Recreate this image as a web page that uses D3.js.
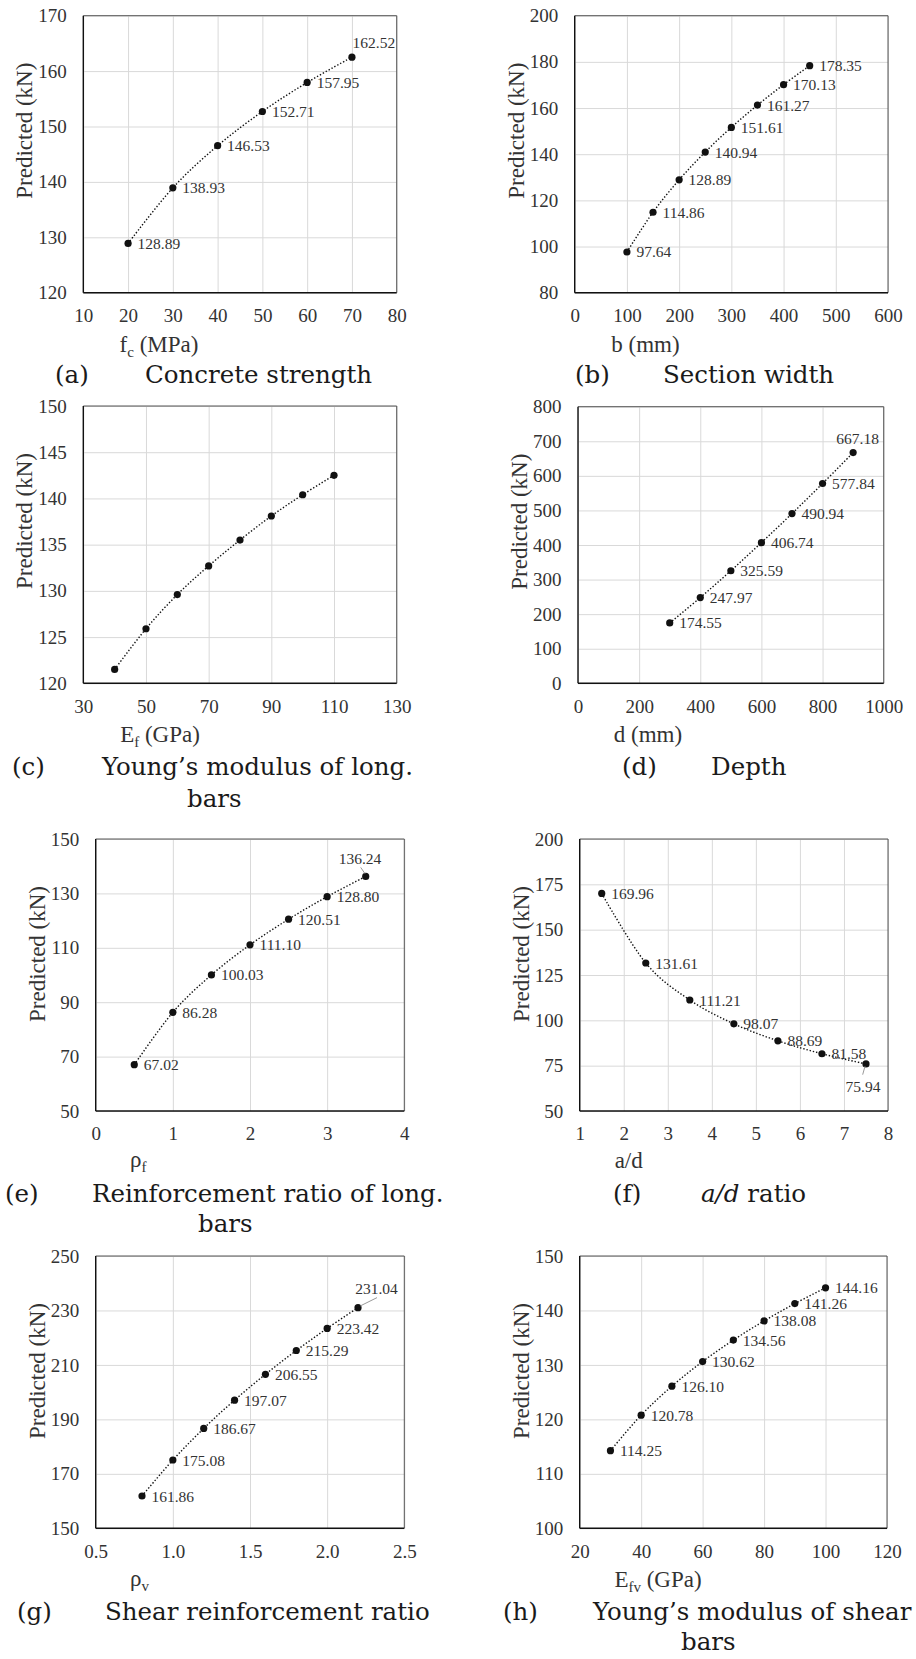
<!DOCTYPE html>
<html>
<head>
<meta charset="utf-8">
<script src="https://cdn.jsdelivr.net/npm/d3@7"></script>
<style>
  body { margin: 0; background: #fff; }
  svg { display: block; font-family: "Liberation Serif", "Times New Roman", serif; }
  svg .tick text { font-family: "Liberation Serif", "Times New Roman", serif; }
  svg .cap { font-family: "DejaVu Serif", serif; }
</style>
</head>
<body>
<div id="chart"></div>
<script>
// (a) concrete strength
const fcValues = [20, 30, 40, 50, 60, 70];
const fcPredicted = [128.89, 138.93, 146.53, 152.71, 157.95, 162.52];
const fcTicks = [10, 20, 30, 40, 50, 60, 70, 80];
const fcYTicks = [120, 130, 140, 150, 160, 170];

// (b) section width
const widthValues = [100, 150, 200, 250, 300, 350, 400, 450];
const widthPredicted = [97.64, 114.86, 128.89, 140.94, 151.61, 161.27, 170.13, 178.35];
const widthTicks = [0, 100, 200, 300, 400, 500, 600];
const widthYTicks = [80, 100, 120, 140, 160, 180, 200];

// (c) Young's modulus of long. bars (no labels in the source)
const efValues = [40, 50, 60, 70, 80, 90, 100, 110];
const efPredicted = [121.5, 125.9, 129.6, 132.7, 135.5, 138.1, 140.4, 142.5];
const efTicks = [30, 50, 70, 90, 110, 130];
const efYTicks = [120, 125, 130, 135, 140, 145, 150];

// (d) depth
const depthValues = [300, 400, 500, 600, 700, 800, 900];
const depthPredicted = [174.55, 247.97, 325.59, 406.74, 490.94, 577.84, 667.18];
const depthTicks = [0, 200, 400, 600, 800, 1000];
const depthYTicks = [0, 100, 200, 300, 400, 500, 600, 700, 800];

// (e) reinforcement ratio of long. bars
const rhoFValues = [0.5, 1, 1.5, 2, 2.5, 3, 3.5];
const rhoFPredicted = [67.02, 86.28, 100.03, 111.10, 120.51, 128.80, 136.24];
const rhoFTicks = [0, 1, 2, 3, 4];
const rhoFYTicks = [50, 70, 90, 110, 130, 150];

// (f) a/d ratio
const adValues = [1.5, 2.5, 3.5, 4.5, 5.5, 6.5, 7.5];
const adPredicted = [169.96, 131.61, 111.21, 98.07, 88.69, 81.58, 75.94];
const adTicks = [1, 2, 3, 4, 5, 6, 7, 8];
const adYTicks = [50, 75, 100, 125, 150, 175, 200];

// (g) shear reinforcement ratio
const rhoVValues = [0.8, 1.0, 1.2, 1.4, 1.6, 1.8, 2.0, 2.2];
const rhoVPredicted = [161.86, 175.08, 186.67, 197.07, 206.55, 215.29, 223.42, 231.04];
const rhoVTicks = [0.5, 1.0, 1.5, 2.0, 2.5];
const rhoVYTicks = [150, 170, 190, 210, 230, 250];

// (h) Young's modulus of shear bars
const efvValues = [30, 40, 50, 60, 70, 80, 90, 100];
const efvPredicted = [114.25, 120.78, 126.10, 130.62, 134.56, 138.08, 141.26, 144.16];
const efvTicks = [20, 40, 60, 80, 100, 120];
const efvYTicks = [100, 110, 120, 130, 140, 150];

const width = 916;
const height = 1659;

const serif = "\"Liberation Serif\", \"Times New Roman\", serif";
const captionFont = "\"DejaVu Serif\", serif";

const panels = [
  {
    x: fcValues, y: fcPredicted, xTicks: fcTicks, yTicks: fcYTicks,
    box: { l: 83.3, r: 396.7, t: 15.7, b: 292.7 },
    xTitle: [["f"], ["c", 1], [" (MPa)"]], xTitleAt: [159, 351.7], xTitleAnchor: "middle",
    tag: ["(a)", 55, 383.3],
    caption: [{ x: 145, y: 383.3, parts: [["Concrete strength"]] }],
    labels: true,
    last: { dx: 22, dy: -9, anchor: "middle" },
  },
  {
    x: widthValues, y: widthPredicted, xTicks: widthTicks, yTicks: widthYTicks,
    box: { l: 574.7, r: 888, t: 15.7, b: 292.7 },
    xTitle: [["b (mm)"]], xTitleAt: [645.5, 351.7], xTitleAnchor: "middle",
    tag: ["(b)", 575, 383.3],
    caption: [{ x: 663, y: 383.3, parts: [["Section width"]] }],
    labels: true,
  },
  {
    x: efValues, y: efPredicted, xTicks: efTicks, yTicks: efYTicks,
    box: { l: 83.3, r: 396.7, t: 406, b: 683.3 },
    xTitle: [["E"], ["f", 1], [" (GPa)"]], xTitleAt: [160, 741.7], xTitleAnchor: "middle",
    tag: ["(c)", 12, 775],
    caption: [
      { x: 102, y: 775, parts: [["Young\u2019s modulus of long."]] },
      { x: 187, y: 806.7, parts: [["bars"]] },
    ],
    labels: false,
  },
  {
    x: depthValues, y: depthPredicted, xTicks: depthTicks, yTicks: depthYTicks,
    box: { l: 578, r: 883.7, t: 406.7, b: 683.3 },
    xTitle: [["d (mm)"]], xTitleAt: [648, 741.7], xTitleAnchor: "middle",
    tag: ["(d)", 622, 775],
    caption: [{ x: 711, y: 775, parts: [["Depth"]] }],
    labels: true,
    last: { dx: 4.5, dy: -9, anchor: "middle" },
  },
  {
    x: rhoFValues, y: rhoFPredicted, xTicks: rhoFTicks, yTicks: rhoFYTicks,
    box: { l: 95.7, r: 404.3, t: 839, b: 1111 },
    xTitle: [["\u03c1"], ["f", 1]], xTitleAt: [130, 1166.5], xTitleAnchor: "start",
    tag: ["(e)", 5, 1201.7],
    caption: [
      { x: 92, y: 1201.7, parts: [["Reinforcement ratio of long."]] },
      { x: 198, y: 1231.7, parts: [["bars"]] },
    ],
    labels: true,
    last: { dx: -5.7, dy: -12, anchor: "middle", leader: [-5, -9, -0.7, -2.7] },
  },
  {
    x: adValues, y: adPredicted, xTicks: adTicks, yTicks: adYTicks,
    box: { l: 579.7, r: 888, t: 839, b: 1111 },
    xTitle: [["a/d"]], xTitleAt: [628.7, 1168.3], xTitleAnchor: "middle",
    tag: ["(f)", 613, 1201.7],
    caption: [{ x: 701, y: 1201.7, parts: [["a/d", 0, 1], [" ratio"]] }],
    labels: true,
    last: { dx: -3, dy: 28, anchor: "middle", leader: [-3.3, 10.7, -1, 2.4] },
  },
  {
    x: rhoVValues, y: rhoVPredicted, xTicks: rhoVTicks, yTicks: rhoVYTicks, xFormat: ".1f",
    box: { l: 95.7, r: 404.3, t: 1256, b: 1528.3 },
    xTitle: [["\u03c1"], ["v", 1]], xTitleAt: [130, 1585.5], xTitleAnchor: "start",
    tag: ["(g)", 17, 1620],
    caption: [{ x: 105, y: 1620, parts: [["Shear reinforcement ratio"]] }],
    labels: true,
    last: { dx: 18.5, dy: -14, anchor: "middle", leader: [2.3, -1.7, 19, -10] },
  },
  {
    x: efvValues, y: efvPredicted, xTicks: efvTicks, yTicks: efvYTicks,
    box: { l: 579.7, r: 887, t: 1256, b: 1528.3 },
    xTitle: [["E"], ["fv", 1], [" (GPa)"]], xTitleAt: [658, 1586.7], xTitleAnchor: "middle",
    tag: ["(h)", 503, 1620],
    caption: [
      { x: 593, y: 1620, parts: [["Young\u2019s modulus of shear"]] },
      { x: 681, y: 1650, parts: [["bars"]] },
    ],
    labels: true,
  },
];

const svg = d3
  .select("#chart")
  .append("svg")
  .attr("width", width)
  .attr("height", height)
  .attr("viewBox", `0 0 ${width} ${height}`);

svg.append("rect").attr("width", width).attr("height", height).attr("fill", "#fff");

const labelFormat = d3.format(".2f");

// writes text made of parts: [text, subscript?, italic?]
function writeParts(textSel, parts, subSize) {
  let shifted = false;
  parts.forEach(([str, sub, italic]) => {
    const t = textSel.append("tspan").text(str);
    if (sub && !shifted) {
      t.attr("dy", 5).style("font-size", `${subSize}px`);
      shifted = true;
    } else if (!sub && shifted) {
      t.attr("dy", -5);
      shifted = false;
    } else if (sub) {
      t.style("font-size", `${subSize}px`);
    }
    if (italic) t.style("font-style", "italic");
  });
}

panels.forEach((p) => {
  const { l, r, t, b } = p.box;
  const innerWidth = r - l;
  const innerHeight = b - t;

  const x = d3
    .scaleLinear()
    .domain(d3.extent(p.xTicks))
    .range([0, innerWidth]);

  const y = d3
    .scaleLinear()
    .domain(d3.extent(p.yTicks))
    .range([innerHeight, 0]);

  const chart = svg.append("g").attr("transform", `translate(${l}, ${t})`);

  // y gridlines + tick labels
  chart
    .append("g")
    .call(
      d3.axisLeft(y)
        .tickValues(p.yTicks)
        .tickSizeInner(-innerWidth)
        .tickSizeOuter(0)
        .tickPadding(16.5)
        .tickFormat(d3.format("d")),
    )
    .attr("font-family", null)
    .call((g) => g.select(".domain").remove())
    .call((g) => g.selectAll(".tick line").attr("stroke", "#d9d9d9").attr("stroke-width", 1))
    .call((g) => g.selectAll(".tick text")
      .attr("fill", "#333")
      .style("font-family", serif)
      .style("font-size", "19px"));

  // x gridlines + tick labels
  chart
    .append("g")
    .attr("transform", `translate(0, ${innerHeight})`)
    .call(
      d3.axisBottom(x)
        .tickValues(p.xTicks)
        .tickSizeInner(-innerHeight)
        .tickSizeOuter(0)
        .tickPadding(16)
        .tickFormat(d3.format(p.xFormat || "d")),
    )
    .attr("font-family", null)
    .call((g) => g.select(".domain").remove())
    .call((g) => g.selectAll(".tick line").attr("stroke", "#d9d9d9").attr("stroke-width", 1))
    .call((g) => g.selectAll(".tick text")
      .attr("fill", "#333")
      .style("font-family", serif)
      .style("font-size", "19px"));

  // frame
  chart.append("line")
    .attr("x1", 0).attr("x2", innerWidth).attr("y1", 0).attr("y2", 0)
    .attr("stroke", "#555").attr("stroke-width", 1);
  chart.append("line")
    .attr("x1", innerWidth).attr("x2", innerWidth).attr("y1", 0).attr("y2", innerHeight)
    .attr("stroke", "#555").attr("stroke-width", 1);
  chart.append("line")
    .attr("x1", 0).attr("x2", 0).attr("y1", 0).attr("y2", innerHeight)
    .attr("stroke", "#111").attr("stroke-width", 1.4);
  chart.append("line")
    .attr("x1", 0).attr("x2", innerWidth).attr("y1", innerHeight).attr("y2", innerHeight)
    .attr("stroke", "#111").attr("stroke-width", 1.4);

  const points = p.x.map((v, i) => ({ x: v, y: p.y[i] }));

  const line = d3
    .line()
    .x((d) => x(d.x))
    .y((d) => y(d.y))
    .curve(d3.curveCardinal.tension(0));

  chart
    .append("path")
    .datum(points)
    .attr("d", line)
    .attr("fill", "none")
    .attr("stroke", "#111")
    .attr("stroke-width", 1.4)
    .attr("stroke-dasharray", "1.4,1.9");

  chart
    .selectAll("circle.pt")
    .data(points)
    .enter()
    .append("circle")
    .attr("class", "pt")
    .attr("cx", (d) => x(d.x))
    .attr("cy", (d) => y(d.y))
    .attr("r", 3.6)
    .attr("fill", "#111");

  if (p.labels) {
    points.forEach((d, i) => {
      const px = x(d.x);
      const py = y(d.y);
      const special = i === points.length - 1 ? p.last : null;
      const label = chart.append("text")
        .style("font-family", serif)
        .style("font-size", "15.5px")
        .attr("fill", "#333")
        .text(labelFormat(d.y));
      if (special) {
        label
          .attr("x", px + special.dx)
          .attr("y", py + special.dy)
          .attr("text-anchor", special.anchor);
        if (special.leader) {
          const [x1, y1, x2, y2] = special.leader;
          chart.append("line")
            .attr("x1", px + x1).attr("y1", py + y1)
            .attr("x2", px + x2).attr("y2", py + y2)
            .attr("stroke", "#999")
            .attr("stroke-width", 1);
        }
      } else {
        label.attr("x", px + 9.5).attr("y", py + 5.5);
      }
    });
  }

  // y axis title
  svg.append("text")
    .attr("transform", `translate(${l - 51}, ${t + 115}) rotate(-90)`)
    .attr("text-anchor", "middle")
    .style("font-family", serif)
    .style("font-size", "23px")
    .attr("fill", "#333")
    .text("Predicted (kN)");

  // x axis title
  const xt = svg.append("text")
    .attr("x", p.xTitleAt[0])
    .attr("y", p.xTitleAt[1])
    .attr("text-anchor", p.xTitleAnchor)
    .style("font-family", serif)
    .style("font-size", "23px")
    .attr("fill", "#333");
  writeParts(xt, p.xTitle, 15);

  // caption
  svg.append("text")
    .attr("class", "cap")
    .attr("x", p.tag[1])
    .attr("y", p.tag[2])
    .style("font-family", captionFont)
    .style("font-size", "24.5px")
    .attr("fill", "#1a1a1a")
    .text(p.tag[0]);

  p.caption.forEach((c) => {
    const ct = svg.append("text")
      .attr("class", "cap")
      .attr("x", c.x)
      .attr("y", c.y)
      .style("font-family", captionFont)
      .style("font-size", "24.5px")
      .attr("fill", "#1a1a1a");
    writeParts(ct, c.parts, 16);
  });
});
</script>
</body>
</html>
